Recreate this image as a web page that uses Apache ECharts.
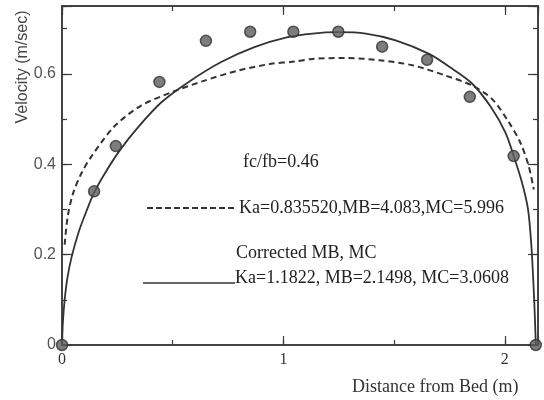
<!DOCTYPE html>
<html>
<head>
<meta charset="utf-8">
<script src="https://cdn.jsdelivr.net/npm/echarts@6/dist/echarts.min.js"></script>
<style>html,body{margin:0;padding:0;background:#fff}#c{width:544px;height:400px}</style>
</head>
<body>
<div id="c"></div>
<script>
// Measured velocities
const measX = [0, 0.145, 0.243, 0.44, 0.65, 0.85, 1.045, 1.248, 1.446, 1.649, 1.842, 2.04, 2.14];
const measY = [0, 0.34, 0.44, 0.582, 0.673, 0.693, 0.693, 0.693, 0.66, 0.631, 0.549, 0.418, 0];

// Curve: Ka=1.1822 (corrected MB, MC) - solid
const solidX = [0, 0.004, 0.012, 0.025, 0.044, 0.074, 0.111, 0.146, 0.194, 0.26, 0.344, 0.449, 0.569, 0.719, 0.869, 1.019, 1.132, 1.245, 1.372, 1.507, 1.658, 1.763, 1.853, 1.935, 2.003, 2.041, 2.078, 2.105, 2.12, 2.13, 2.136, 2.14];
const solidY = [0, 0.05, 0.1, 0.15, 0.196, 0.248, 0.297, 0.338, 0.38, 0.43, 0.482, 0.537, 0.581, 0.626, 0.659, 0.681, 0.689, 0.692, 0.689, 0.674, 0.644, 0.611, 0.578, 0.528, 0.47, 0.417, 0.359, 0.3, 0.22, 0.13, 0.06, 0];

// Curve: Ka=0.835520 - dashed
const dashX = [0.012, 0.026, 0.051, 0.089, 0.134, 0.239, 0.359, 0.494, 0.644, 0.794, 0.944, 1.05, 1.132, 1.282, 1.432, 1.582, 1.733, 1.853, 1.943, 2.018, 2.07, 2.108, 2.131];
const dashY = [0.222, 0.285, 0.337, 0.381, 0.418, 0.485, 0.53, 0.559, 0.585, 0.607, 0.622, 0.627, 0.633, 0.635, 0.63, 0.619, 0.596, 0.574, 0.544, 0.493, 0.448, 0.396, 0.344];

const xName = 'Distance from Bed (m)';
const yName = 'Velocity (m/sec)';
const notes = ['fc/fb=0.46', 'Ka=0.835520,MB=4.083,MC=5.996', 'Corrected MB, MC', 'Ka=1.1822, MB=2.1498, MC=3.0608'];

const XMIN = 0, XMAX = 2.15, YMIN = 0, YMAX = 0.75;
const axCol = '#3a3a3a';
const serif = 'Liberation Serif';
const sans = 'Liberation Sans';

const zip = (a, b) => a.map((v, i) => [v, b[i]]);

function xAx(pos, interval, len, labels) {
  return {
    type: 'value', position: pos, min: XMIN, max: XMAX, interval: interval,
    axisLine: {show: true, onZero: false, lineStyle: {color: axCol, width: 1.5}},
    axisTick: {show: true, inside: true, length: len, lineStyle: {color: axCol, width: 1.2}},
    splitLine: {show: false},
    axisLabel: labels ? {
      show: true, margin: 7, color: '#333', fontFamily: serif, fontSize: 16,
      formatter: v => (Math.abs(v - Math.round(v)) < 1e-6 && v <= 2) ? String(Math.round(v)) : ''
    } : {show: false}
  };
}
function yAx(pos, interval, len, labels) {
  return {
    type: 'value', position: pos, min: YMIN, max: YMAX, interval: interval,
    axisLine: {show: true, onZero: false, lineStyle: {color: axCol, width: 1.5}},
    axisTick: {show: true, inside: true, length: len, lineStyle: {color: axCol, width: 1.2}},
    splitLine: {show: false},
    axisLabel: labels ? {
      show: true, margin: 6, color: '#555', fontFamily: sans, fontSize: 16,
      formatter: v => v > 0.7 ? '' : (v === 0 ? '0' : v.toFixed(1))
    } : {show: false}
  };
}

const chart = echarts.init(document.getElementById('c'), null, {renderer: 'canvas'});
chart.setOption({
  animation: false,
  backgroundColor: '#fff',
  grid: {left: 62, right: 6, top: 6, bottom: 55, containLabel: false},
  xAxis: [xAx('bottom', 1, 9, true), xAx('bottom', 0.5, 5, false), xAx('top', 1, 9, false), xAx('top', 0.5, 5, false)],
  yAxis: [yAx('left', 0.2, 10, true), yAx('left', 0.1, 5, false), yAx('right', 0.2, 10, false), yAx('right', 0.1, 5, false)],
  series: [
    {
      type: 'line', name: 'Ka=0.835520', data: zip(dashX, dashY), symbol: 'none', smooth: 0.3,
      lineStyle: {color: '#333', width: 2, type: [6, 4]}, z: 3
    },
    {
      type: 'line', name: 'Ka=1.1822', data: zip(solidX, solidY), symbol: 'none', smooth: 0.3,
      lineStyle: {color: '#333', width: 1.8}, z: 3
    },
    {
      type: 'scatter', name: 'Measured', data: zip(measX, measY), symbolSize: 11,
      itemStyle: {color: '#5c5c5c', borderColor: '#333', borderWidth: 1.5}, z: 4
    }
  ],
  graphic: [
    {type: 'text', left: 352, top: 378, style: {text: xName, font: '18px "Liberation Serif"', fill: '#333'}},
    {type: 'text', x: 23, y: 67, rotation: Math.PI / 2, style: {text: yName, font: '16px "Liberation Sans"', fill: '#444', align: 'center', verticalAlign: 'middle'}},
    {type: 'text', x: 243, y: 162, style: {text: notes[0], font: '18px "Liberation Serif"', fill: '#222', verticalAlign: 'middle'}},
    {type: 'text', x: 239, y: 208, style: {text: notes[1], font: '18px "Liberation Serif"', fill: '#222', verticalAlign: 'middle'}},
    {type: 'text', x: 236, y: 253, style: {text: notes[2], font: '18px "Liberation Serif"', fill: '#222', verticalAlign: 'middle'}},
    {type: 'text', x: 235, y: 278, style: {text: notes[3], font: '18px "Liberation Serif"', fill: '#222', verticalAlign: 'middle'}},
    {type: 'line', shape: {x1: 147, y1: 208, x2: 235, y2: 208}, style: {stroke: '#333', lineWidth: 2, lineDash: [6, 3]}},
    {type: 'line', shape: {x1: 143, y1: 283, x2: 235, y2: 283}, style: {stroke: '#333', lineWidth: 1.5}}
  ]
});
</script>
</body>
</html>
